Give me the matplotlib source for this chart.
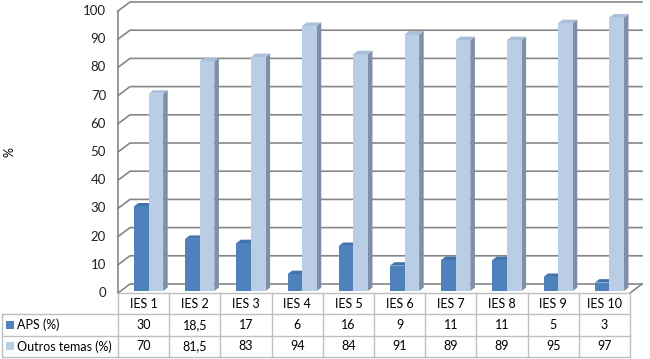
import matplotlib
matplotlib.use("Agg")
import matplotlib.pyplot as plt
from matplotlib.patches import Polygon, Rectangle

categories = ["IES 1", "IES 2", "IES 3", "IES 4", "IES 5",
              "IES 6", "IES 7", "IES 8", "IES 9", "IES 10"]
aps = [30, 18.5, 17, 6, 16, 9, 11, 11, 5, 3]
outros = [70, 81.5, 83, 94, 84, 91, 89, 89, 95, 97]
aps_txt = ["30", "18,5", "17", "6", "16", "9", "11", "11", "5", "3"]
outros_txt = ["70", "81,5", "83", "94", "84", "91", "89", "89", "95", "97"]
series_names = ["APS (%)", "Outros temas (%)"]
yticks = list(range(0, 101, 10))

plt.rcParams['font.family'] = ['Lato', 'DejaVu Sans']
FS = 9

W, H = 650, 359
fig = plt.figure(figsize=(W / 100, H / 100), dpi=100)

# front plane of the plot in pixels
L, R, B, T = 118, 630, 293, 11
ax = fig.add_axes([L / W, (H - B) / H, (R - L) / W, (B - T) / H])
ax.set_xlim(-0.5, 9.5)
ax.set_ylim(0, 100)
ax.axis("off")

px_x = 10 / (R - L)        # category units per pixel
px_y = 100 / (B - T)       # value units per pixel
DX = 12 * px_x             # full depth offset
DY = 9 * px_y
grid_c = "#868686"

x0, x1 = -0.5, 9.5
# walls and floor
for v in yticks:
    ax.plot([x0, x0 + DX, x1 + DX], [v, v + DY, v + DY], color=grid_c,
            lw=1.2, clip_on=False, zorder=1)
ax.plot([x0, x0], [0, 100], color=grid_c, lw=1.2, clip_on=False, zorder=1)
ax.plot([x1, x1 + DX], [0, DY], color=grid_c, lw=1.2, clip_on=False, zorder=1)

for v in yticks:
    ax.text(x0 - 12 * px_x, v, str(v), ha="right", va="center",
            fontsize=9.5, color="#222222")

fig.text(10 / W, 1 - 152 / H, "%", rotation=90, ha="center", va="center",
         fontsize=FS)

# bars
f0, f1 = 0.22, 0.6
bw = 0.285
ox, oy = f0 * DX, f0 * DY
dd, dv = (f1 - f0) * DX, (f1 - f0) * DY

colors = [
    {"front": "#4F81BD", "side": "#35577f", "top": "#4273ad"},
    {"front": "#B9CDE5", "side": "#7f8fa6", "top": "#a9bfdc"},
]


def bar3d(xl, v, c):
    xr = xl + bw
    side = [(xr + ox, oy), (xr + ox, v + oy), (xr + ox + dd, v + oy + dv),
            (xr + ox + dd, oy + dv)]
    top = [(xl + ox, v + oy), (xr + ox, v + oy), (xr + ox + dd, v + oy + dv),
           (xl + ox + dd, v + oy + dv)]
    ax.add_patch(Polygon(side, closed=True, fc=c["side"], ec="none",
                         zorder=3, clip_on=False))
    ax.add_patch(Rectangle((xl + ox, oy), bw, v, fc=c["front"], ec="none",
                           zorder=4, clip_on=False))
    ax.add_patch(Polygon(top, closed=True, fc=c["top"], ec="none",
                         zorder=4, clip_on=False))


for i in range(len(categories)):
    start = i - 0.24
    bar3d(start, aps[i], colors[0])
    bar3d(start + bw, outros[i], colors[1])

# data table
tb_top, tb_bot = 293, 357
tax = fig.add_axes([L / W, (H - tb_bot) / H, (R - L) / W, (tb_bot - tb_top) / H])
tax.set_xlim(-0.5, 9.5)
tax.set_ylim(0, 3)
tax.axis("off")
lab_left = x0 - (L - 2) * px_x
line_c = "#bfbfbf"

tax.plot([x0, x1], [3, 3], color=line_c, lw=1, clip_on=False)
for yv in [2, 1, 0]:
    tax.plot([lab_left, x1], [yv, yv], color=line_c, lw=1, clip_on=False)
for k in range(len(categories) + 1):
    tax.plot([x0 + k, x0 + k], [0, 3], color=line_c, lw=1, clip_on=False)
tax.plot([lab_left, lab_left], [0, 2], color=line_c, lw=1, clip_on=False)

for i, name in enumerate(categories):
    tax.text(i, 2.5, name, ha="center", va="center", fontsize=FS)
    tax.text(i, 1.5, aps_txt[i], ha="center", va="center", fontsize=FS)
    tax.text(i, 0.5, outros_txt[i], ha="center", va="center", fontsize=FS)

sq = 8
for r, (name, c) in enumerate(zip(series_names, colors)):
    yc = 1.5 - r
    tax.add_patch(Rectangle((lab_left + 4 * px_x, yc - sq / 2 / 21.3),
                            sq * px_x, sq / 21.3, fc=c["front"], ec="none",
                            clip_on=False))
    tax.text(lab_left + 15 * px_x, yc, name, ha="left", va="center",
             fontsize=FS)

fig.savefig("out.png", dpi=100)
